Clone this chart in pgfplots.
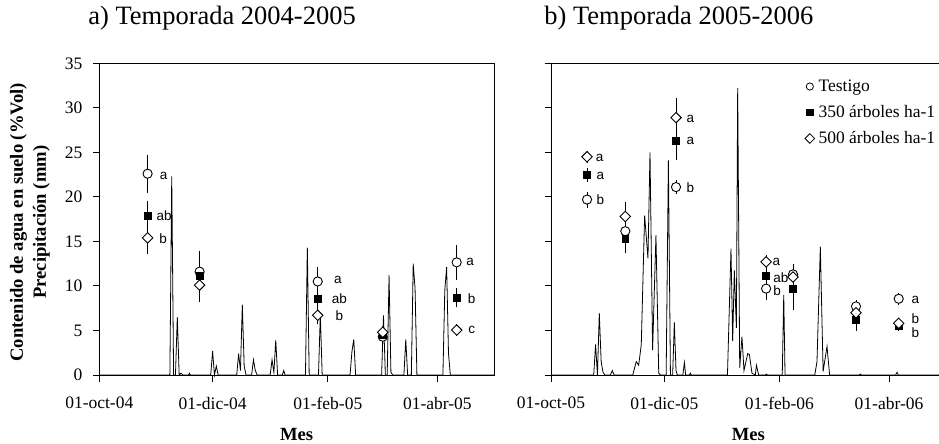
\documentclass[border=0pt]{standalone}
\usepackage{fontspec}
\setmainfont{Liberation Serif}
\newfontfamily\arialf{Liberation Sans}
\usepackage{pgfplots}
\pgfplotsset{compat=1.18}

\pgfplotsset{
  panel/.style={
    scale only axis, width=394.7pt, height=311.7pt,
    xmin=0, xmax=212.5, ymin=0, ymax=35,
    ytick={0,5,...,35}, xtick={0,61,123,182},
    tick align=outside, major tick length=6.5pt,
    tick pos=left,
    axis line style={line width=1pt},
    every tick/.style={line width=1pt, black},
    /pgf/number format/assume math mode=true,
    ticklabel style={font=\fontsize{17.5}{20}\selectfont},
    xticklabel style={yshift=-12pt},
    yticklabel style={xshift=-7pt},
    xlabel={Mes},
    xlabel style={at={(axis description cs:0.5,0)}, anchor=base, yshift=-65pt, font=\bfseries\fontsize{18.6}{22}\selectfont},
    clip=false,
  },
  errb/.style={error bars/y dir=both, error bars/y explicit,
    error bars/error bar style={line width=0.8pt, black},
    error bars/error mark options={black, line width=0.8pt, mark size=4pt}},
  tst/.style={only marks, mark=*, mark size=4.6pt,
    mark options={fill=white, draw=black, line width=0.9pt}, errb},
  t350/.style={only marks, mark=square*, mark size=3.4pt,
    mark options={fill=black, draw=black, line width=0.5pt}, errb},
  t500/.style={only marks, mark=square*, mark size=3.7pt,
    mark options={fill=white, draw=black, line width=0.9pt, rotate=45}, errb},
  lbl/.style={only marks, mark=none, nodes near coords, point meta=explicit symbolic,
    every node near coord/.style={anchor=center, inner sep=0pt, black,
      font=\arialf\fontsize{13.5}{15}\selectfont}},
  pp/.style={black, line width=0.8pt, mark=none},
}

\begin{document}
\begin{tikzpicture}
\path[use as bounding box] (-99.3pt,-69pt) rectangle (839.7pt,375pt);
\clip (-99.3pt,-69pt) rectangle (839.7pt,375pt);

% ---------------- a) 2004-2005 ----------------
\begin{axis}[panel, at={(0pt,0pt)}, anchor=south west,
  xticklabels={01-oct-04,01-dic-04,01-feb-05,01-abr-05},
  title={a) Temporada 2004-2005},
  title style={at={(axis description cs:0.311,1)}, anchor=base, yshift=32.6pt,
    font=\fontsize{26.5}{30}\selectfont},
  ylabel={Contenido de agua en suelo (\%Vol)\\Precipitación (mm)},
  ylabel style={at={(axis description cs:-0.1756,0.49)}, anchor=center, align=center,
    font=\bfseries\fontsize{18.6}{23}\selectfont},
]
\addplot[pp] table {
0 0
38 0
39 22.3
40 0
41 0
42 6.5
43 0
44 0.2
45 0
48 0
48.5 0.2
49 0
60 0
61 2.7
62 0
63 1.0
64 0
74 0
75 2.4
76 0.5
77 7.9
78 1.0
79 0
82 0
83 1.7
84 0.5
85 0
92 0
93 1.7
94 0.3
95 3.9
96 0
98.5 0
99.3 0.5
100 0
111 0
112 14.3
113 0
118 0
119 6.8
120 0
135 0
136 2.6
137 4.0
138 0
152 0
153 6.7
154 0
155 0
156 11.2
157 0.3
158 0
164 0
165 4.0
166 0
168 0
169 12.5
170 9.7
171 0
185 0
186 9.5
187 12.1
188 2.4
189 0
212.5 0
};
\addplot[tst] table[x=x, y=y, y error=e] {
x y e
26 22.6 1.7
54 11.6 0.6
117.6 10.5 1.2
152.6 4.3 0.3
192.4 12.65 1.5
};
\addplot[t350] table[x=x, y=y, y error=e] {
x y e
26 17.9 1.2
54 11.1 2.4
117.6 8.6 0.7
152.6 4.5 0.3
192.4 8.7 0.65
};
\addplot[t500] table[x=x, y=y, y error=e] {
x y e
26 15.4 1.35
54 10.1 1.5
117.6 6.7 0.55
152.6 4.8 0.3
192.4 5.05 0.2
};
\addplot[lbl] table[x=x, y=y, meta=t] {
x y t
34.7 22.35 a
34.9 17.9 ab
34.3 15.35 b
128.4 10.67 a
129.3 8.57 ab
129.3 6.66 b
199.6 12.7 a
200.5 8.6 b
200.5 5.05 c
};
\end{axis}

% ---------------- b) 2005-2006 ----------------
\begin{axis}[panel, at={(451.7pt,0pt)}, anchor=south west,
  xticklabels={01-oct-05,01-dic-05,01-feb-06,01-abr-06},
  yticklabels={},
  title={b) Temporada 2005-2006},
  title style={at={(axis description cs:0.324,1)}, anchor=base, yshift=32.6pt,
    font=\fontsize{26.5}{30}\selectfont},
  legend cell align=left,
  legend image code/.code={\draw[#1] plot coordinates {(0pt,0pt)};},
  legend style={draw=none, fill=none, at={(axis description cs:0.643,0.952)},
    anchor=north west, inner sep=0pt, row sep=9.5pt, column sep=2.5pt,
    font=\fontsize{17.5}{20}\selectfont, nodes={inner sep=1.5pt}},
]
\addplot[forget plot, pp] table {
0 0
23 0
24 3.45
25 0
26 6.95
27 1.5
28 0.3
29 0
32 0
33 0.5
34 0
44 0
44.5 0.4
45.9 1.5
47.2 1.1
48.6 3.4
50.4 17.9
51.3 15.5
52.2 13.1
53.3 25.0
54.7 2.8
56.5 15.7
58 0.2
59 0
62 0
63.2 24.1
64.3 0
65.5 0
66.4 5.9
67.3 0.5
68 0
71 0
71.8 1.4
72.5 0
74.5 0
75 0.2
75.5 0
95 0
96.9 14.2
97.8 3.8
98.7 11.75
99.8 5.3
100.5 32.2
101.6 0.8
102.8 4.3
103.9 0.5
105.9 2.4
106.8 2.3
108.2 0.2
110 0
110.6 1.1
111.8 0
115.5 0
116 0.1
116.5 0
124.5 0
125.3 9.0
126 0
142 0
143.2 1.5
145 14.4
146.5 0.4
148.6 3.2
150 0
166 0
166.6 0.1
167 0
185.5 0
186.3 0.3
187 0
212.5 0
};
\addplot[forget plot, tst] table[x=x, y=y, y error=e] {
x y e
19.4 19.7 0.45
40 16.15 0.4
67.3 21.1 0.3
115.8 9.7 0.8
130.3 11.3 0.5
164.2 7.7 0.3
187.2 8.56 0.2
};
\addplot[forget plot, t350] table[x=x, y=y, y error=e] {
x y e
19.4 22.5 0.35
40 15.3 1.2
67.3 26.3 1.7
115.8 11.1 0.5
130.3 9.7 1.9
164.2 6.2 0.8
187.2 5.55 0.2
};
\addplot[forget plot, t500] table[x=x, y=y, y error=e] {
x y e
19.4 24.5 0.2
40 17.8 1.2
67.3 28.9 1.7
115.8 12.7 0.3
130.3 11.0 1.0
164.2 7.0 0.2
187.2 5.8 0.2
};
\addplot[forget plot, lbl] table[x=x, y=y, meta=t] {
x y t
26.2 24.4 a
26.6 22.3 a
26.6 19.7 b
75.0 28.8 a
75.0 26.3 a
75.0 21.0 b
121.3 12.7 a
123.8 10.9 ab
121.7 9.5 b
196.2 8.45 a
196.2 6.35 b
196.2 4.75 b
};
\addlegendimage{only marks, mark=*, mark size=3.6pt, mark options={fill=white, draw=black, line width=0.8pt}}
\addlegendentry{Testigo}
\addlegendimage{only marks, mark=square*, mark size=3.2pt, mark options={fill=black, draw=black}}
\addlegendentry{350 árboles ha-1}
\addlegendimage{only marks, mark=square*, mark size=3.4pt, mark options={fill=white, draw=black, line width=0.8pt, rotate=45}}
\addlegendentry{500 árboles ha-1}
\end{axis}
\end{tikzpicture}
\end{document}
